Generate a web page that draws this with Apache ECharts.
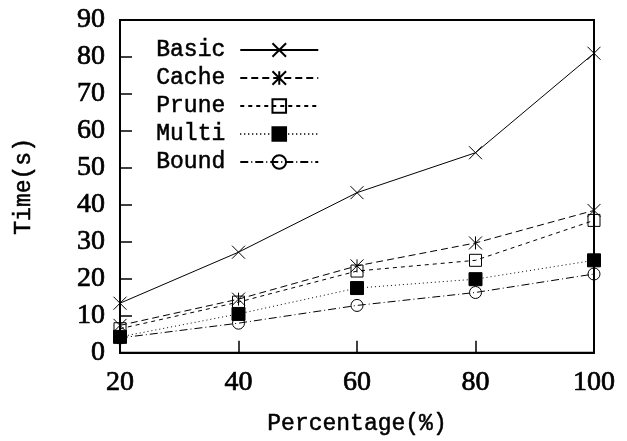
<!DOCTYPE html>
<html>
<head>
<meta charset="utf-8">
<script src="https://cdn.jsdelivr.net/npm/echarts@6/dist/echarts.min.js"></script>
<style>
  html, body { margin: 0; padding: 0; background: #fff; }
  #chart { width: 627px; height: 441px; }
</style>
</head>
<body>
<div id="chart"></div>
<script>
// Running time versus data percentage for five strategies
const percentages = [20, 40, 60, 80, 100];
const basicTimes = [13.4, 27.2, 43.3, 54.1, 81.0];
const cacheTimes = [7.4, 14.5, 23.5, 29.7, 38.5];
const pruneTimes = [6.5, 13.7, 22.1, 25.0, 35.8];
const multiTimes = [4.3, 10.5, 17.5, 19.9, 25.0];
const boundTimes = [4.0, 8.0, 12.8, 16.3, 21.3];
const seriesNames = ['Basic', 'Cache', 'Prune', 'Multi', 'Bound'];

const monoFont = '"Liberation Mono", "DejaVu Sans Mono", monospace';
const serifFont = '"Liberation Serif", "DejaVu Serif", serif';

// Slightly thickened monospace text
const monoText = {
  fontFamily: monoFont, fontSize: 23, color: '#000',
  textBorderColor: '#000', textBorderWidth: 0.5
};

// Tick label style: large serif digits with a little extra weight
const tickText = {
  fontFamily: serifFont, fontSize: 28, color: '#000',
  textBorderColor: '#000', textBorderWidth: 0.7
};

const crossPath = 'path://M0,0L10,10M10,0L0,10';
const starPath = 'path://M0,0L10,10M10,0L0,10M5,0L5,10';

function pairs(values) {
  return percentages.map((p, i) => [p, values[i]]);
}

function makeSeries(name, values, symbol, size, dash, filled) {
  return {
    name: name,
    type: 'line',
    data: pairs(values),
    symbol: symbol,
    symbolSize: size,
    showAllSymbol: true,
    lineStyle: { color: '#000', width: 1, type: dash },
    itemStyle: {
      color: filled ? '#000' : 'rgba(0,0,0,0)',
      borderColor: '#000',
      borderWidth: 1
    },
    emphasis: { disabled: true },
    animation: false
  };
}

const chart = echarts.init(document.getElementById('chart'));
chart.setOption({
  backgroundColor: '#fff',
  animation: false,
  grid: {
    left: 120, right: 33, top: 20, bottom: 85,
    show: true, borderColor: '#000', borderWidth: 2, backgroundColor: 'transparent'
  },
  legend: {
    orient: 'vertical',
    left: 151,
    top: 33,
    align: 'right',
    itemWidth: 78,
    itemHeight: 17,
    itemGap: 4,
    data: seriesNames,
    textStyle: Object.assign({}, monoText, { lineHeight: 24, padding: [0, 10, 0, 0] })
  },
  xAxis: {
    type: 'value',
    min: 20, max: 100, interval: 20,
    name: 'Percentage(%)',
    nameLocation: 'middle',
    nameGap: 60,
    nameTextStyle: monoText,
    axisLine: { show: true, lineStyle: { color: '#000', width: 2 } },
    axisTick: { show: true, inside: true, length: 12, lineStyle: { color: '#000', width: 1.5 } },
    axisLabel: Object.assign({ margin: 16 }, tickText),
    splitLine: { show: false }
  },
  yAxis: {
    type: 'value',
    min: 0, max: 90, interval: 10,
    name: 'Time(s)',
    nameLocation: 'middle',
    nameGap: 85,
    nameTextStyle: monoText,
    axisLine: { show: true, lineStyle: { color: '#000', width: 2 } },
    axisTick: { show: true, inside: true, length: 12, lineStyle: { color: '#000', width: 1.5 } },
    axisLabel: Object.assign({ margin: 15 }, tickText),
    splitLine: { show: false }
  },
  series: [
    makeSeries('Basic', basicTimes, crossPath, 13, 'solid', false),
    makeSeries('Cache', cacheTimes, starPath, 13, [7, 4], false),
    makeSeries('Prune', pruneTimes, 'rect', 12, [4, 4], false),
    makeSeries('Multi', multiTimes, 'rect', 13, [1, 3], true),
    makeSeries('Bound', boundTimes, 'circle', 12, [8, 3, 1, 3], false)
  ]
});
</script>
</body>
</html>
